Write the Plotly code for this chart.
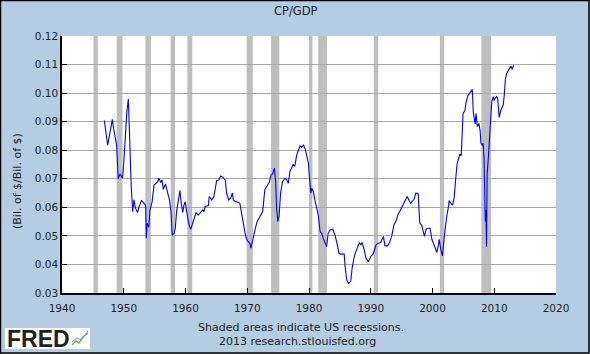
import plotly.graph_objects as go

# ---- data ----
years = [1946.85, 1947.4, 1948.15, 1948.3, 1948.85, 1949.1, 1949.4, 1949.8, 1950.0, 1950.2,
         1950.5, 1950.75, 1950.9, 1951.0, 1951.2, 1951.45, 1951.65, 1951.9, 1952.25, 1952.5,
         1952.85, 1953.3, 1953.55, 1953.65, 1953.8, 1954.05, 1954.25, 1954.6, 1954.9, 1955.2,
         1955.5, 1955.7, 1956.0, 1956.2, 1956.4, 1956.75, 1957.05, 1957.4, 1957.65, 1957.85,
         1958.15, 1958.35, 1958.55, 1958.85, 1959.1, 1959.3, 1959.55, 1959.75, 1959.95, 1960.2,
         1960.5, 1960.85, 1961.15, 1961.5, 1961.7, 1962.05, 1962.45, 1962.8, 1963.0, 1963.2,
         1963.7, 1963.85, 1964.25, 1964.6, 1965.05, 1965.4, 1965.7, 1966.1, 1966.45, 1966.65,
         1967.0, 1967.3, 1967.6, 1967.75, 1968.1, 1968.55, 1968.8, 1969.1, 1969.35, 1969.7,
         1970.0, 1970.45, 1970.6, 1970.9, 1971.25, 1971.6, 1971.95, 1972.5, 1972.85, 1973.25,
         1973.55, 1973.85, 1974.1, 1974.4, 1974.6, 1974.75, 1974.95, 1975.15, 1975.4, 1975.7,
         1976.1, 1976.4, 1976.65, 1976.9, 1977.25, 1977.45, 1977.7, 1978.0, 1978.3, 1978.55,
         1978.8, 1979.1, 1979.4, 1979.6, 1979.9, 1980.05, 1980.15, 1980.3, 1980.45, 1980.7,
         1980.95, 1981.25, 1981.5, 1981.8, 1982.05, 1982.3, 1982.6, 1982.85, 1983.1, 1983.4,
         1983.85, 1984.2, 1984.5, 1984.85, 1985.15, 1985.7, 1985.85, 1986.1, 1986.4, 1986.75,
         1987.0, 1987.35, 1987.7, 1988.15, 1988.4, 1988.6, 1988.95, 1989.2, 1989.6, 1990.0,
         1990.4, 1990.85, 1991.2, 1991.6, 1992.05, 1992.3, 1992.7, 1993.0, 1993.4, 1993.75,
         1994.1, 1994.45, 1994.8, 1995.3, 1995.9, 1996.45, 1997.0, 1997.3, 1997.7, 1997.8,
         1997.95, 1998.25, 1998.5, 1998.7, 1998.95, 1999.2, 1999.6, 1999.75, 1999.9, 2000.15,
         2000.4, 2000.7, 2000.95, 2001.1, 2001.35, 2001.6, 2001.9, 2002.05, 2002.3, 2002.55,
         2002.7, 2003.0, 2003.25, 2003.5, 2003.65, 2003.8, 2004.0, 2004.25, 2004.45, 2004.65,
         2004.75, 2004.95, 2005.25, 2005.4, 2005.7, 2005.95, 2006.25, 2006.45, 2006.6, 2006.9,
         2007.05, 2007.25, 2007.5, 2007.7, 2007.85, 2008.05, 2008.2, 2008.35, 2008.55, 2008.65,
         2008.75, 2008.85, 2009.0, 2009.2, 2009.4, 2009.6, 2009.85, 2010.0, 2010.15, 2010.4,
         2010.55, 2010.8, 2011.05, 2011.25, 2011.45, 2011.65, 2011.8, 2012.0, 2012.3, 2012.55,
         2012.7, 2012.9, 2013.15]
cp_gdp = [0.0904, 0.0818, 0.0908, 0.0883, 0.0818, 0.0700, 0.0717, 0.0702, 0.0755, 0.0842,
          0.0935, 0.0979, 0.0879, 0.0743, 0.0678, 0.0585, 0.0626, 0.0597, 0.0582, 0.0603,
          0.0624, 0.0614, 0.0606, 0.0492, 0.0544, 0.0530, 0.0591, 0.0620, 0.0678, 0.0684,
          0.0690, 0.0702, 0.0687, 0.0696, 0.0663, 0.0682, 0.0658, 0.0626, 0.0585, 0.0503,
          0.0509, 0.0527, 0.0585, 0.0632, 0.0659, 0.0617, 0.0582, 0.0608, 0.0620, 0.0585,
          0.0544, 0.0523, 0.0544, 0.0568, 0.0582, 0.0573, 0.0585, 0.0591, 0.0585, 0.0603,
          0.0606, 0.0638, 0.0626, 0.0638, 0.0694, 0.0696, 0.0710, 0.0705, 0.0694, 0.0650,
          0.0626, 0.0632, 0.0650, 0.0626, 0.0620, 0.0618, 0.0614, 0.0579, 0.0538, 0.0503,
          0.0483, 0.0474, 0.0457, 0.0492, 0.0521, 0.0550, 0.0562, 0.0585, 0.0663, 0.0678,
          0.0687, 0.0713, 0.0717, 0.0737, 0.0690, 0.0597, 0.0550, 0.0568, 0.0650, 0.0690,
          0.0702, 0.0696, 0.0684, 0.0725, 0.0745, 0.0751, 0.0743, 0.0783, 0.0801, 0.0815,
          0.0810, 0.0818, 0.0803, 0.0778, 0.0755, 0.0708, 0.0675, 0.0650, 0.0667, 0.0655,
          0.0626, 0.0591, 0.0573, 0.0515, 0.0509, 0.0492, 0.0474, 0.0462, 0.0509, 0.0521,
          0.0524, 0.0503, 0.0477, 0.0439, 0.0436, 0.0436, 0.0393, 0.0346, 0.0334, 0.0340,
          0.0390, 0.0430, 0.0451, 0.0477, 0.0468, 0.0477, 0.0451, 0.0424, 0.0409, 0.0428,
          0.0437, 0.0468, 0.0474, 0.0477, 0.0498, 0.0465, 0.0465, 0.0474, 0.0500, 0.0538,
          0.0553, 0.0577, 0.0590, 0.0612, 0.0638, 0.0614, 0.0628, 0.0650, 0.0647, 0.0597,
          0.0544, 0.0538, 0.0515, 0.0498, 0.0523, 0.0527, 0.0527, 0.0509, 0.0488, 0.0474,
          0.0462, 0.0442, 0.0468, 0.0488, 0.0451, 0.0430, 0.0495, 0.0533, 0.0568, 0.0597,
          0.0624, 0.0614, 0.0608, 0.0632, 0.0661, 0.0710, 0.0755, 0.0772, 0.0787, 0.0780,
          0.0848, 0.0929, 0.0939, 0.0964, 0.0990, 0.0999, 0.1009, 0.1013, 0.0935, 0.0892,
          0.0929, 0.0883, 0.0894, 0.0871, 0.0824, 0.0818, 0.0824, 0.0772, 0.0550, 0.0591,
          0.0462, 0.0719, 0.0760, 0.0824, 0.0894, 0.0970, 0.0988, 0.0974, 0.0982, 0.0988,
          0.0982, 0.0915, 0.0939, 0.0947, 0.0958, 0.0999, 0.1048, 0.1069, 0.1079, 0.1090,
          0.1095, 0.1083, 0.1098]

recession_start = [1945.1, 1948.85, 1953.5, 1957.6, 1960.3, 1969.9, 1973.85, 1980.0, 1981.5, 1990.5, 2001.2, 2007.92]
recession_end = [1945.8, 1949.8, 1954.4, 1958.3, 1961.1, 1970.9, 1975.2, 1980.55, 1982.9, 1991.2, 2001.9, 2009.5]

x_ticks = [1940, 1950, 1960, 1970, 1980, 1990, 2000, 2010, 2020]
y_ticks = [0.03, 0.04, 0.05, 0.06, 0.07, 0.08, 0.09, 0.10, 0.11, 0.12]

# ---- layout geometry (pixels) ----
W, H = 590, 354
L, R, T, B = 62, 556, 36, 293
PW, PH = R - L, B - T


def px(x):
    return (x - L) / PW


def py(y):
    return (B - y) / PH


BG = "#B4CDE3"
FONT = "DejaVu Sans"

fig = go.Figure()
fig.add_trace(go.Scatter(x=years, y=cp_gdp, mode="lines",
                         line=dict(color="#0000FF", width=1.1), hoverinfo="skip"))

shapes = []
for s, e in zip(recession_start, recession_end):
    shapes.append(dict(type="rect", xref="x", yref="paper", x0=s, x1=e, y0=0, y1=1,
                       fillcolor="#BEBEBE", line=dict(width=0), layer="between"))

# FRED logo box
shapes.append(dict(type="rect", xref="paper", yref="paper", x0=px(5), x1=px(90),
                   y0=py(349), y1=py(328), fillcolor="white", line=dict(width=0), layer="above"))
shapes.append(dict(type="path", xref="paper", yref="paper",
                   path="M %f,%f L %f,%f L %f,%f L %f,%f L %f,%f" % (
                       px(72), py(345), px(76), py(341), px(79), py(343), px(83), py(337), px(88), py(333)),
                   line=dict(color="#7FAE4A", width=1.5), layer="above"))
shapes.append(dict(type="path", xref="paper", yref="paper",
                   path="M %f,%f L %f,%f L %f,%f L %f,%f" % (
                       px(72), py(342), px(77), py(338), px(81), py(340), px(88), py(331)),
                   line=dict(color="#6E8FC0", width=1), layer="above"))
# outer border
shapes.append(dict(type="rect", xref="paper", yref="paper", x0=px(0.5), x1=px(W - 1),
                   y0=py(H - 1), y1=py(0.5), line=dict(color="#000000", width=1.5),
                   fillcolor="rgba(0,0,0,0)", layer="above"))

annotations = [
    dict(text="CP/GDP", xref="paper", yref="paper", x=px(296), y=py(11), showarrow=False,
         font=dict(family=FONT, size=11.5, color="#222222"), xanchor="center", yanchor="middle"),
    dict(text="(Bil. of $/Bil. of $)", xref="paper", yref="paper", x=px(17), y=py(181),
         showarrow=False, textangle=-90, font=dict(family=FONT, size=11, color="#222222"),
         xanchor="center", yanchor="middle"),
    dict(text="Shaded areas indicate US recessions.", xref="paper", yref="paper", x=px(301),
         y=py(327), showarrow=False, font=dict(family=FONT, size=11, color="#222222"),
         xanchor="center", yanchor="middle"),
    dict(text="2013 research.stlouisfed.org", xref="paper", yref="paper", x=px(297),
         y=py(341), showarrow=False, font=dict(family=FONT, size=11, color="#222222"),
         xanchor="center", yanchor="middle"),
    dict(text="<b>FRED</b>", xref="paper", yref="paper", x=px(5), y=py(339), showarrow=False,
         font=dict(family="Liberation Sans", size=23, color="#231F20"),
         xanchor="left", yanchor="middle"),
]

fig.update_layout(
    width=W, height=H,
    margin=dict(l=L, r=W - R, t=T, b=H - B, pad=0),
    paper_bgcolor=BG, plot_bgcolor="white",
    showlegend=False,
    shapes=shapes, annotations=annotations,
    xaxis=dict(range=[1940, 2020], tickvals=x_ticks, ticktext=[str(v) for v in x_ticks],
               showgrid=False, zeroline=False, showline=True, linecolor="black", linewidth=1.5,
               ticks="inside", ticklen=5, tickcolor="black", tickwidth=1, ticklabelstandoff=5,
               tickfont=dict(family=FONT, size=10.5, color="#222222"), fixedrange=True),
    yaxis=dict(range=[0.03, 0.12], tickvals=y_ticks, ticktext=["%.2f" % v for v in y_ticks],
               showgrid=True, gridcolor="#A8A8A8", gridwidth=1, zeroline=False,
               showline=True, linecolor="black", linewidth=1.5,
               ticks="inside", ticklen=5, tickcolor="black", tickwidth=1,
               tickfont=dict(family=FONT, size=10.5, color="#222222"), fixedrange=True),
)

fig.write_html("out.html")
